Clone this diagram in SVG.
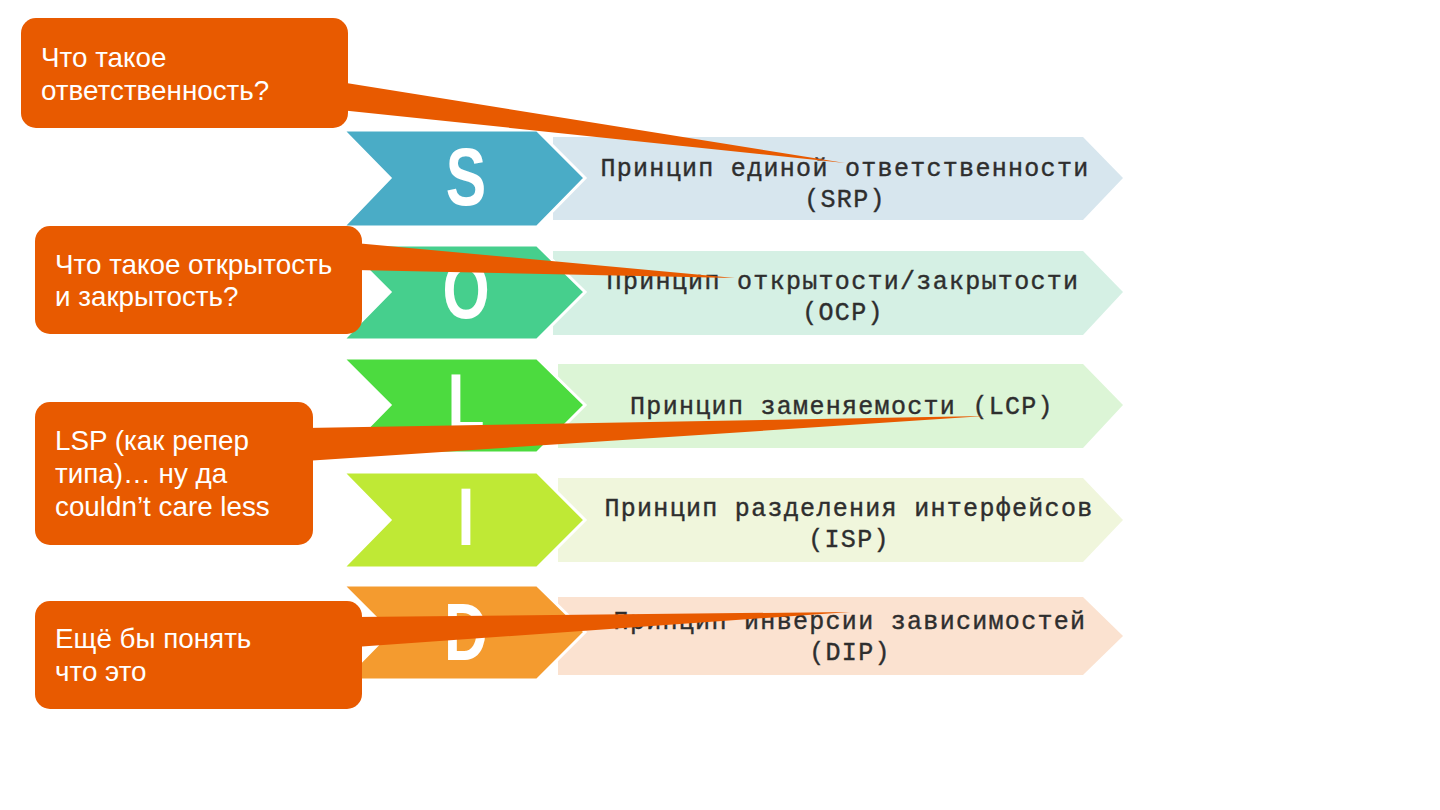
<svg xmlns="http://www.w3.org/2000/svg" width="1440" height="810" viewBox="0 0 1440 810">
<style>
.band{stroke:none}
.chev{stroke:#ffffff;stroke-width:3;stroke-linejoin:miter}
.letter{font-family:"Liberation Sans",Arial,sans-serif;font-weight:bold;font-size:82px;fill:#ffffff;text-anchor:middle}
.desc{font-family:"Liberation Mono","Courier New",monospace;font-size:25px;letter-spacing:1.3px;fill:#2e2e2e;stroke:#2e2e2e;stroke-width:0.4;text-anchor:middle}
.callout{fill:#e85a00}
.ctext{font-family:"Liberation Sans",Arial,sans-serif;font-size:27.8px;fill:#ffffff}
</style>
<rect width="1440" height="810" fill="#ffffff"/>

<g id="row-s">
<polygon class="band" fill="#d7e6ee" points="553,137 1083,137 1123,178 1083,220 553,220"/>
<polygon class="chev" fill="#4aacc6" points="343,130 537,130 585,178 537,227 343,227 390,178"/>
<text class="letter" transform="translate(466,205) scale(0.74,1)">S</text>
<text class="desc" x="845" y="176">Принцип единой ответственности</text>
<text class="desc" x="845" y="207">(SRP)</text>
</g>

<g id="row-o">
<polygon class="band" fill="#d5f0e4" points="553,251 1083,251 1123,292 1083,335 553,335"/>
<polygon class="chev" fill="#46cf8d" points="343,245 537,245 585,292 537,340 343,340 390,292"/>
<text class="letter" transform="translate(466,318) scale(0.74,1)">O</text>
<text class="desc" x="843" y="289">Принцип открытости/закрытости</text>
<text class="desc" x="843" y="320">(OCP)</text>
</g>

<g id="row-l">
<polygon class="band" fill="#dcf5d6" points="558,364 1083,364 1123,405 1083,448 558,448"/>
<polygon class="chev" fill="#4cdb3f" points="343,358 537,358 585,405 537,453 343,453 390,405"/>
<text class="letter" transform="translate(466,431) scale(0.74,1)">L</text>
<text class="desc" x="842" y="414">Принцип заменяемости (LCP)</text>
</g>

<g id="row-i">
<polygon class="band" fill="#f0f6dc" points="558,478 1083,478 1123,520 1083,562 558,562"/>
<polygon class="chev" fill="#bfe935" points="343,472 537,472 585,520 537,568 343,568 390,520"/>
<text class="letter" transform="translate(466,545) scale(0.74,1)">I</text>
<text class="desc" x="849" y="516">Принцип разделения интерфейсов</text>
<text class="desc" x="849" y="547">(ISP)</text>
</g>

<g id="row-d">
<polygon class="band" fill="#fbe2d0" points="558,597 1083,597 1123,636 1083,675 558,675"/>
<polygon class="chev" fill="#f49b2f" points="343,585 537,585 585,632 537,680 343,680 390,632"/>
<text class="letter" transform="translate(466,660) scale(0.74,1)">D</text>
<text class="desc" x="850" y="629">Принцип инверсии зависимостей</text>
<text class="desc" x="850" y="660">(DIP)</text>
</g>

<g id="connectors">
<polygon class="callout" points="340,82 845,163 340,110"/>
<polygon class="callout" points="355,243 735,278 355,270"/>
<polygon class="callout" points="305,428 985,416 305,461"/>
<polygon class="callout" points="355,617 850,612 355,647"/>
</g>

<g id="callout-1">
<rect class="callout" x="21" y="18" width="327" height="110" rx="15"/>
<text class="ctext" x="41" y="67">Что такое</text>
<text class="ctext" x="41" y="100">ответственность?</text>
</g>

<g id="callout-2">
<rect class="callout" x="35" y="226" width="327" height="108" rx="15"/>
<text class="ctext" x="55" y="274">Что такое открытость</text>
<text class="ctext" x="55" y="306">и закрытость?</text>
</g>

<g id="callout-3">
<rect class="callout" x="35" y="402" width="278" height="143" rx="15"/>
<text class="ctext" x="55" y="450">LSP (как репер</text>
<text class="ctext" x="55" y="483">типа)… ну да</text>
<text class="ctext" x="55" y="516">couldn’t care less</text>
</g>

<g id="callout-4">
<rect class="callout" x="35" y="601" width="327" height="108" rx="15"/>
<text class="ctext" x="55" y="648">Ещё бы понять</text>
<text class="ctext" x="55" y="681">что это</text>
</g>
</svg>
